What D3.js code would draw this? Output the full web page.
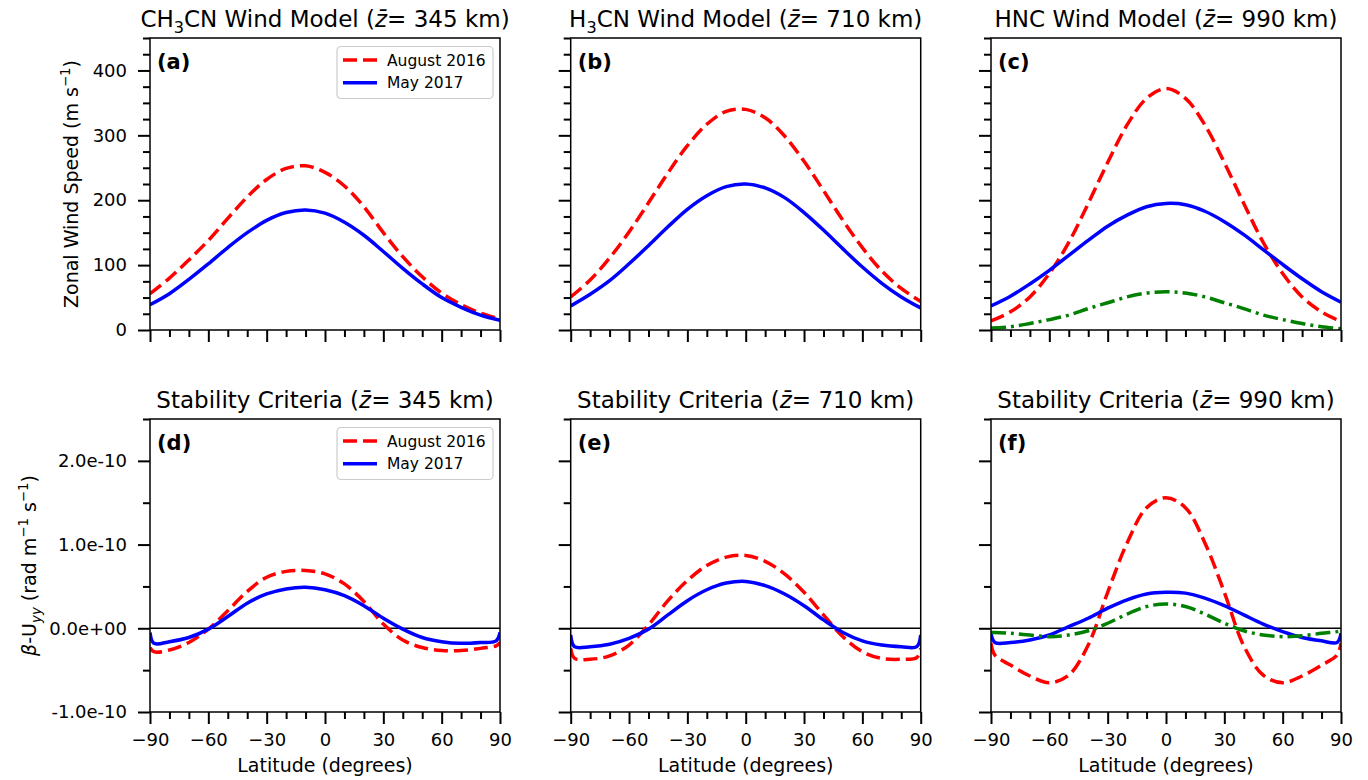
<!DOCTYPE html>
<html>
<head>
<meta charset="utf-8">
<script src="https://cdn.jsdelivr.net/npm/d3@7"></script>
<style>
  body { margin: 0; background: #fff; }
  text { font-family: "DejaVu Sans", sans-serif; fill: #000; }
</style>
</head>
<body>
<svg id="chart" width="1368" height="780"></svg>
<script>
// latitude grids (degrees)
const latTop = [-90, -80, -70, -60, -50, -40, -30, -20, -10, 0, 10, 20, 30, 40, 50, 60, 70, 80, 90];
const latBottom = [-90, -88, -80, -70, -60, -50, -40, -30, -20, -10, 0, 10, 20, 30, 40, 50, 60, 70, 80, 88, 90];

// zonal wind speed (m/s)
const windA_aug = [56, 80, 108, 138, 172, 205, 232, 249, 253, 243, 222, 190, 150, 113, 82, 57, 39, 26, 17];
const windA_may = [39, 56, 78, 102, 127, 150, 169, 181, 185, 180, 166, 146, 121, 95, 71, 50, 35, 23, 15];
const windB_aug = [51, 77, 111, 151, 196, 242, 284, 317, 337, 340, 327, 299, 260, 215, 169, 127, 91, 64, 44];
const windB_may = [37, 55, 76, 102, 130, 159, 186, 207, 221, 225, 219, 204, 181, 154, 125, 97, 72, 51, 34];
const windC_aug = [14, 28, 51, 87, 135, 195, 258, 316, 357, 372, 357, 316, 258, 195, 135, 87, 51, 28, 13];
const windC_may = [37, 52, 71, 92, 115, 138, 160, 177, 190, 195, 193, 183, 167, 147, 124, 101, 79, 59, 43];
const windC_other = [3, 5, 10, 16, 23, 33, 42, 51, 57, 59, 57, 51, 42, 33, 23, 16, 10, 5, 2];

// stability criteria, in units of 1e-10 rad m^-1 s^-1
const stabD_aug = [-0.23, -0.28, -0.26, -0.17, -0.01, 0.21, 0.44, 0.61, 0.68, 0.69, 0.65, 0.53, 0.32, 0.05, -0.14, -0.23, -0.265, -0.265, -0.24, -0.21, -0.17];
const stabD_may = [-0.05, -0.18, -0.16, -0.11, -0.01, 0.14, 0.30, 0.41, 0.47, 0.49, 0.46, 0.39, 0.27, 0.12, -0.01, -0.11, -0.16, -0.18, -0.17, -0.15, -0.05];
const stabE_aug = [-0.24, -0.36, -0.37, -0.33, -0.20, 0.04, 0.33, 0.57, 0.75, 0.85, 0.87, 0.80, 0.65, 0.43, 0.16, -0.10, -0.28, -0.36, -0.37, -0.35, -0.24];
const stabE_may = [-0.08, -0.22, -0.22, -0.19, -0.12, -0.01, 0.16, 0.33, 0.46, 0.54, 0.56, 0.51, 0.41, 0.27, 0.10, -0.05, -0.15, -0.20, -0.22, -0.22, -0.08];
const stabF_aug = [-0.18, -0.32, -0.44, -0.57, -0.65, -0.56, -0.20, 0.43, 1.02, 1.44, 1.56, 1.44, 1.02, 0.43, -0.21, -0.56, -0.65, -0.57, -0.44, -0.32, -0.18];
const stabF_may = [-0.06, -0.17, -0.17, -0.14, -0.08, 0.02, 0.12, 0.24, 0.34, 0.41, 0.43, 0.42, 0.36, 0.27, 0.16, 0.05, -0.04, -0.11, -0.15, -0.17, -0.06];
const stabF_other = [-0.05, -0.05, -0.06, -0.08, -0.10, -0.08, -0.03, 0.06, 0.17, 0.26, 0.29, 0.26, 0.17, 0.06, -0.03, -0.08, -0.10, -0.09, -0.06, -0.04, -0.03];

// ticks
const latTicks = [-90, -60, -30, 0, 30, 60, 90];
const windTicks = [0, 100, 200, 300, 400];
const windTickLabels = ["0", "100", "200", "300", "400"];
const stabTicks = [-1, 0, 1, 2];
const stabTickLabels = ["-1.0e-10", "0.0e+00", "1.0e-10", "2.0e-10"];
const legendNames = ["August 2016", "May 2017"];

const styles = {
    aug: { color: "#ff0000", dash: "14,6" },
    may: { color: "#0000ff", dash: null },
    other: { color: "#008000", dash: "15,5,3,5" }
};

const svg = d3.select("#chart");
const colX = [150, 570.7, 991];
const rowY = [38, 419];
const rowH = [292, 293];
const W = 350;

// text with sub/superscripts
function richText(sel, parts, size) {
    let shift = 0;
    parts.forEach(p => {
        const target = p.sub ? 0.28 * size : p.sup ? -0.42 * size : 0;
        const ts = sel.append("tspan").text(p.t).attr("dy", target - shift);
        if (p.sub || p.sup) ts.attr("font-size", size * 0.7);
        if (p.it) ts.attr("font-style", "italic");
        shift = target;
    });
}

const fmtLat = d => d < 0 ? "\u2212" + Math.abs(d) : String(d);

function styleAxis(g) {
    g.select(".domain").remove();
    g.attr("font-size", 18).attr("font-family", "DejaVu Sans, sans-serif");
    g.selectAll(".tick line").attr("stroke", "#000").attr("stroke-width", 2);
    g.selectAll(".tick text").attr("fill", "#000");
}

function drawPanel(p) {
    const x0 = colX[p.col], y0 = rowY[p.row], h = rowH[p.row];
    const g = svg.append("g").attr("transform", `translate(${x0},${y0})`);
    const x = d3.scaleLinear().domain([-90, 90]).range([0, W]);
    const y = d3.scaleLinear().domain(p.yDomain).range([h, 0]);

    const clipId = "clip" + p.label;
    g.append("clipPath").attr("id", clipId)
        .append("rect").attr("width", W).attr("height", h);

    // x ticks
    const latMinor = d3.range(-90, 91, 10).filter(d => !latTicks.includes(d));
    g.append("g").attr("transform", `translate(0,${h})`)
        .call(d3.axisBottom(x).tickValues(latMinor).tickSize(7).tickFormat(""))
        .call(styleAxis);
    g.append("g").attr("transform", `translate(0,${h})`)
        .call(d3.axisBottom(x).tickValues(latTicks).tickSize(12).tickPadding(9)
            .tickFormat(p.xLabels ? fmtLat : ""))
        .call(styleAxis);

    // y ticks
    g.append("g")
        .call(d3.axisLeft(y).tickValues(p.yMinor).tickSize(7).tickFormat(""))
        .call(styleAxis);
    g.append("g")
        .call(d3.axisLeft(y).tickValues(p.yTicks).tickSize(12).tickPadding(11)
            .tickFormat((d, i) => p.yLabels ? p.yLabels[i] : ""))
        .call(styleAxis);

    const plot = g.append("g").attr("clip-path", `url(#${clipId})`);

    if (p.zeroLine) {
        plot.append("line")
            .attr("x1", x(-90)).attr("x2", x(90))
            .attr("y1", y(0)).attr("y2", y(0))
            .attr("stroke", "#000").attr("stroke-width", 1.6);
    }

    const line = d3.line()
        .x(d => x(d[0])).y(d => y(d[1]))
        .curve(d3.curveCatmullRom.alpha(0.5));

    p.series.forEach(s => {
        const st = styles[s.key];
        plot.append("path")
            .datum(d3.zip(p.lat, s.values))
            .attr("d", line)
            .attr("fill", "none")
            .attr("stroke", st.color)
            .attr("stroke-width", 3.5)
            .attr("stroke-dasharray", st.dash);
    });

    // frame
    g.append("rect").attr("width", W).attr("height", h)
        .attr("fill", "none").attr("stroke", "#000").attr("stroke-width", 1.5);

    // panel letter
    g.append("text").attr("x", 7).attr("y", 30.5)
        .attr("font-size", 21).attr("font-weight", "bold")
        .text(`(${p.label})`);

    // title
    const t = g.append("text").attr("x", W / 2).attr("y", -11)
        .attr("text-anchor", "middle").attr("font-size", 23);
    richText(t, p.title, 23);

    if (p.legend) {
        const lg = g.append("g").attr("transform", "translate(187,8.5)");
        lg.append("rect").attr("width", 156).attr("height", 52).attr("rx", 4)
            .attr("fill", "#fff").attr("fill-opacity", 0.8)
            .attr("stroke", "#cccccc").attr("stroke-width", 1.2);
        ["aug", "may"].forEach((k, i) => {
            const ly = 13.5 + i * 22.7;
            lg.append("line").attr("x1", 6).attr("x2", 40)
                .attr("y1", ly).attr("y2", ly)
                .attr("stroke", styles[k].color).attr("stroke-width", 3.5)
                .attr("stroke-dasharray", styles[k].dash);
            lg.append("text").attr("x", 50).attr("y", ly + 5.5)
                .attr("font-size", 15.5).text(legendNames[i]);
        });
    }

    if (p.xLabels) {
        g.append("text").attr("x", W / 2).attr("y", h + 60)
            .attr("text-anchor", "middle").attr("font-size", 19)
            .text("Latitude (degrees)");
    }
}

const zbar = km => [{ t: " (" }, { t: "z\u0304", it: true }, { t: "= " + km + " km)" }];
const windMinor = d3.range(0, 451, 25).filter(d => !windTicks.includes(d));
const stabMinor = [-0.5, 0.5, 1.5, 2.5];

drawPanel({ row: 0, col: 0, label: "a", lat: latTop, yDomain: [0, 450],
    yTicks: windTicks, yMinor: windMinor, yLabels: windTickLabels, legend: true,
    title: [{ t: "CH" }, { t: "3", sub: true }, { t: "CN Wind Model" }, ...zbar(345)],
    series: [{ key: "aug", values: windA_aug }, { key: "may", values: windA_may }] });
drawPanel({ row: 0, col: 1, label: "b", lat: latTop, yDomain: [0, 450],
    yTicks: windTicks, yMinor: windMinor,
    title: [{ t: "H" }, { t: "3", sub: true }, { t: "CN Wind Model" }, ...zbar(710)],
    series: [{ key: "aug", values: windB_aug }, { key: "may", values: windB_may }] });
drawPanel({ row: 0, col: 2, label: "c", lat: latTop, yDomain: [0, 450],
    yTicks: windTicks, yMinor: windMinor,
    title: [{ t: "HNC Wind Model" }, ...zbar(990)],
    series: [{ key: "aug", values: windC_aug }, { key: "may", values: windC_may },
        { key: "other", values: windC_other }] });

drawPanel({ row: 1, col: 0, label: "d", lat: latBottom, yDomain: [-1, 2.5],
    yTicks: stabTicks, yMinor: stabMinor, yLabels: stabTickLabels, legend: true,
    xLabels: true, zeroLine: true,
    title: [{ t: "Stability Criteria" }, ...zbar(345)],
    series: [{ key: "aug", values: stabD_aug }, { key: "may", values: stabD_may }] });
drawPanel({ row: 1, col: 1, label: "e", lat: latBottom, yDomain: [-1, 2.5],
    yTicks: stabTicks, yMinor: stabMinor, xLabels: true, zeroLine: true,
    title: [{ t: "Stability Criteria" }, ...zbar(710)],
    series: [{ key: "aug", values: stabE_aug }, { key: "may", values: stabE_may }] });
drawPanel({ row: 1, col: 2, label: "f", lat: latBottom, yDomain: [-1, 2.5],
    yTicks: stabTicks, yMinor: stabMinor, xLabels: true, zeroLine: true,
    title: [{ t: "Stability Criteria" }, ...zbar(990)],
    series: [{ key: "aug", values: stabF_aug }, { key: "may", values: stabF_may },
        { key: "other", values: stabF_other }] });

// y axis titles
const yl1 = svg.append("text")
    .attr("transform", `translate(78,${38 + 292 / 2}) rotate(-90)`)
    .attr("text-anchor", "middle").attr("font-size", 19);
richText(yl1, [{ t: "Zonal Wind Speed (m s" }, { t: "\u22121", sup: true }, { t: ")" }], 19);

const yl2 = svg.append("text")
    .attr("transform", `translate(36,${419 + 293 / 2}) rotate(-90)`)
    .attr("text-anchor", "middle").attr("font-size", 19);
richText(yl2, [{ t: "\u03b2", it: true }, { t: "-U" }, { t: "yy", sub: true, it: true },
    { t: " (rad m" }, { t: "\u22121", sup: true }, { t: " s" }, { t: "\u22121", sup: true }, { t: ")" }], 19);
</script>
</body>
</html>
